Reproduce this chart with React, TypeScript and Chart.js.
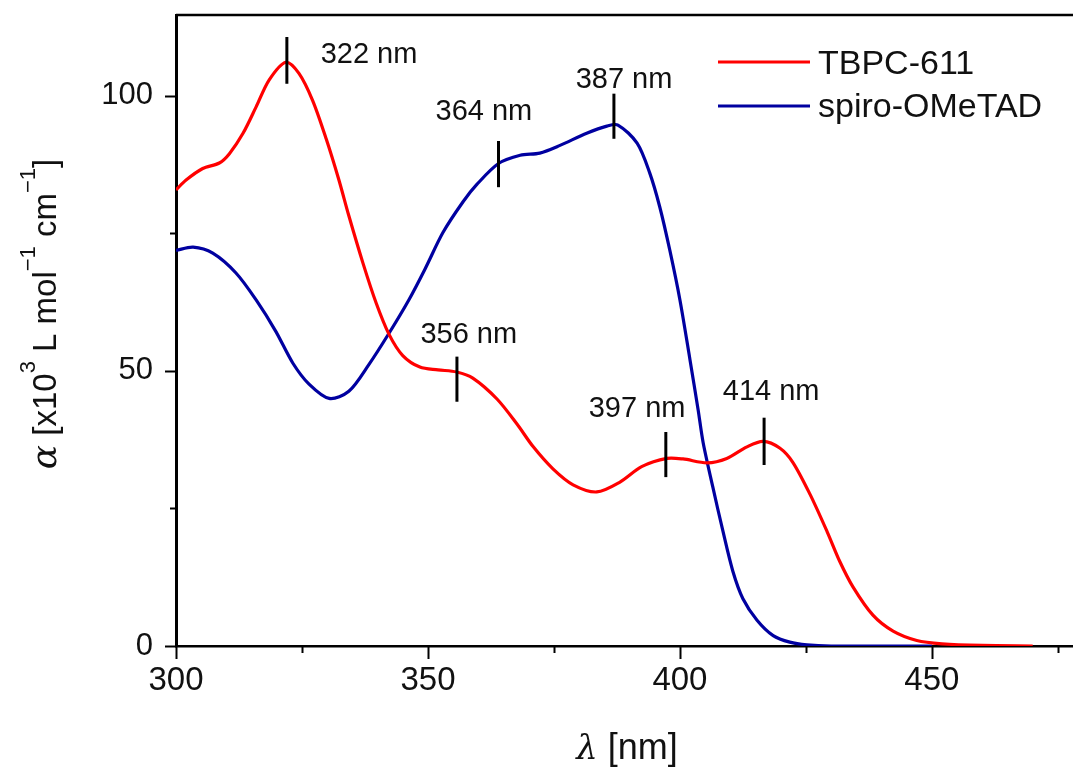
import React, { useEffect, useRef } from 'react';
import { Chart, registerables } from 'chart.js';

Chart.register(...registerables);

// ---- data ----
const tbpcWavelength = [300, 302, 305.3, 308.6, 310.6, 313.3, 315.9, 318.5, 321.8, 324.4, 327.1, 329.8, 332.3, 334.3, 337.1, 339.7, 342.3, 345, 348.4, 352, 355.7, 358.9, 363.7, 367.7, 370.9, 374.8, 378.8, 383.5, 388.1, 392.4, 397.4, 400.6, 405.4, 409.3, 413.3, 416.5, 419.8, 422.4, 425.8, 429.2, 431.7, 434.3, 438.3, 442.3, 447, 452, 460, 470];
const tbpcAlpha = [82.9, 84.7, 86.8, 87.8, 89.5, 93.2, 98, 102.9, 106.1, 104.1, 99.2, 92.2, 84.8, 78.2, 69.6, 62.4, 56.6, 52.8, 50.7, 50.2, 49.8, 48.7, 44.9, 40.3, 36.2, 32.2, 29.3, 28, 29.8, 32.6, 34.1, 34, 33.3, 34.1, 36.2, 37.2, 36.0, 33.4, 27.6, 20.8, 15.4, 10.8, 5.6, 2.7, 1.0, 0.4, 0.1, 0];

const spiroWavelength = [300, 303.4, 307.3, 311.9, 315.9, 319.8, 323.2, 326.4, 330.4, 334.3, 338.3, 342.3, 346.2, 349.4, 353, 357, 359.7, 364, 368.3, 372.2, 376.2, 381.5, 385.5, 387.7, 391.5, 394, 396, 398, 400, 402, 403.6, 404.6, 406.5, 408.5, 410.5, 412.5, 415.3, 418.5, 421.8, 425.2, 430, 450];
const spiroAlpha = [71.9, 72.5, 71.4, 67.8, 62.9, 57.2, 51.4, 47.6, 45, 46.3, 51.2, 56.9, 62.9, 68.5, 75.2, 80.8, 83.9, 87.7, 89.2, 89.6, 91, 93.2, 94.5, 94.7, 91.4, 86.0, 79.8, 71.9, 62.9, 52, 43, 37, 29, 21, 13.6, 8.6, 4.7, 1.9, 0.7, 0.2, 0, 0];

const seriesNames = ['TBPC-611', 'spiro-OMeTAD'];
const seriesColors = ['#ff0000', '#0000a0'];

const xTickValues = [300, 325, 350, 375, 400, 425, 450, 475];
const yTickValues = [0, 25, 50, 75, 100];

// peak markers (data units)
const peakLabels = ['322 nm', '364 nm', '387 nm', '356 nm', '397 nm', '414 nm'];
const peakX = [322.0, 364.0, 386.9, 355.75, 397.2, 416.7];
const peakTop = [110.7, 91.8, 100.4, 52.6, 38.9, 41.5];
const peakBottom = [102.2, 83.4, 92.2, 44.4, 30.7, 32.9];
const labelX = [338.3, 361.1, 388.9, 358.1, 391.5, 418.1];
const labelY = [106.0, 95.7, 101.5, 55.1, 41.6, 44.7];

const SANS = '"Liberation Sans", Arial, sans-serif';
const SERIF = '"DejaVu Serif", "Liberation Serif", serif';

type Seg = { t: string; font: string; rise?: number };

function segWidth(ctx: CanvasRenderingContext2D, segs: Seg[]) {
  let w = 0;
  for (const s of segs) {
    ctx.font = s.font;
    w += ctx.measureText(s.t).width;
  }
  return w;
}

function drawSegs(ctx: CanvasRenderingContext2D, segs: Seg[], startX: number, baseY: number) {
  let x = startX;
  ctx.textAlign = 'left';
  ctx.textBaseline = 'alphabetic';
  for (const s of segs) {
    ctx.font = s.font;
    ctx.fillText(s.t, x, baseY - (s.rise || 0));
    x += ctx.measureText(s.t).width;
  }
}

const decorPlugin = {
  id: 'decor',
  afterDraw(chart: any) {
    const ctx: CanvasRenderingContext2D = chart.ctx;
    const xs = chart.scales.x;
    const ys = chart.scales.y;
    const area = chart.chartArea;
    ctx.save();
    ctx.strokeStyle = '#000';
    ctx.fillStyle = '#111';

    // top frame line
    ctx.lineWidth = 2.5;
    ctx.beginPath();
    ctx.moveTo(area.left, area.top);
    ctx.lineTo(chart.width, area.top);
    ctx.stroke();

    // tick marks (outward)
    ctx.lineWidth = 2;
    for (const v of xTickValues) {
      const px = Math.round(xs.getPixelForValue(v)) + 0.5;
      const len = v % 50 === 0 ? 13 : 7;
      ctx.beginPath();
      ctx.moveTo(px, area.bottom);
      ctx.lineTo(px, area.bottom + len);
      ctx.stroke();
    }
    for (const v of yTickValues) {
      const py = Math.round(ys.getPixelForValue(v)) + 0.5;
      const len = v % 50 === 0 ? 11 : 6;
      ctx.beginPath();
      ctx.moveTo(area.left - len, py);
      ctx.lineTo(area.left, py);
      ctx.stroke();
    }

    // peak markers
    ctx.lineWidth = 3;
    for (let i = 0; i < peakX.length; i++) {
      const px = xs.getPixelForValue(peakX[i]);
      ctx.beginPath();
      ctx.moveTo(px, ys.getPixelForValue(peakTop[i]));
      ctx.lineTo(px, ys.getPixelForValue(peakBottom[i]));
      ctx.stroke();
    }
    ctx.font = `29px ${SANS}`;
    ctx.textAlign = 'center';
    ctx.textBaseline = 'alphabetic';
    for (let i = 0; i < peakLabels.length; i++) {
      ctx.fillText(peakLabels[i], xs.getPixelForValue(labelX[i]), ys.getPixelForValue(labelY[i]));
    }

    // legend
    const legendY = [62, 106];
    const legendBase = [74, 117];
    for (let i = 0; i < seriesNames.length; i++) {
      ctx.strokeStyle = seriesColors[i];
      ctx.lineWidth = 3.2;
      ctx.beginPath();
      ctx.moveTo(718, legendY[i]);
      ctx.lineTo(810, legendY[i]);
      ctx.stroke();
      ctx.fillStyle = '#111';
      ctx.font = `34px ${SANS}`;
      ctx.textAlign = 'left';
      ctx.fillText(seriesNames[i], 818, legendBase[i]);
    }

    // x axis title
    const xTitle: Seg[] = [
      { t: 'λ', font: `italic 34px ${SERIF}` },
      { t: ' [nm]', font: `36px ${SANS}` },
    ];
    const xw = segWidth(ctx, xTitle);
    drawSegs(ctx, xTitle, 627 - xw / 2, 759);

    // y axis title (rotated)
    const supF = `22px ${SANS}`;
    const mainF = `33px ${SANS}`;
    const yTitle: Seg[] = [
      { t: 'α', font: `italic 36px ${SERIF}` },
      { t: ' [x10', font: mainF },
      { t: '3', font: supF, rise: 21 },
      { t: ' L mol', font: mainF },
      { t: '−1', font: supF, rise: 21 },
      { t: ' cm', font: mainF },
      { t: '−1', font: supF, rise: 21 },
      { t: ']', font: mainF },
    ];
    const yw = segWidth(ctx, yTitle);
    ctx.translate(56, 314);
    ctx.rotate(-Math.PI / 2);
    drawSegs(ctx, yTitle, -yw / 2, 0);
    ctx.restore();
  },
};

export default function App() {
  const canvasRef = useRef<HTMLCanvasElement | null>(null);

  useEffect(() => {
    if (!canvasRef.current) return;
    const chart = new Chart(canvasRef.current, {
      type: 'line',
      data: {
        datasets: [
          {
            label: seriesNames[0],
            data: tbpcWavelength.map((x, i) => ({ x, y: tbpcAlpha[i] })),
            borderColor: seriesColors[0],
            borderWidth: 3.2,
            pointRadius: 0,
            tension: 0.3,
            fill: false,
          },
          {
            label: seriesNames[1],
            data: spiroWavelength.map((x, i) => ({ x, y: spiroAlpha[i] })),
            borderColor: seriesColors[1],
            borderWidth: 3.2,
            pointRadius: 0,
            tension: 0.3,
            fill: false,
          },
        ],
      },
      options: {
        animation: false,
        responsive: true,
        maintainAspectRatio: false,
        layout: { padding: { top: 15, right: 0, left: 0, bottom: 0 } },
        plugins: { legend: { display: false }, tooltip: { enabled: false } },
        scales: {
          x: {
            type: 'linear',
            min: 300,
            max: 478,
            afterFit: (s: any) => { s.height = 125; s.paddingLeft = 0; s.paddingRight = 0; },
            afterBuildTicks: (s: any) => { s.ticks = xTickValues.map((v) => ({ value: v })); },
            grid: { display: false, drawTicks: false },
            border: { display: true, color: '#000', width: 2.5 },
            ticks: {
              padding: 15,
              color: '#111',
              maxRotation: 0,
              autoSkip: false,
              font: { family: SANS, size: 33 },
              callback: (v: any) => (Number(v) % 50 === 0 ? String(v) : ''),
            },
          },
          y: {
            type: 'linear',
            min: 0,
            max: 114.7,
            afterFit: (s: any) => { s.width = 176; s.paddingTop = 0; s.paddingBottom = 0; },
            afterBuildTicks: (s: any) => { s.ticks = yTickValues.map((v) => ({ value: v })); },
            grid: { display: false, drawTicks: false },
            border: { display: true, color: '#000', width: 3 },
            ticks: {
              padding: 23,
              color: '#111',
              autoSkip: false,
              font: { family: SANS, size: 31 },
              callback: (v: any) => (Number(v) % 50 === 0 ? String(v) : ''),
            },
          },
        },
      },
      plugins: [decorPlugin],
    } as any);
    return () => chart.destroy();
  }, []);

  return (
    <div style={{ position: 'fixed', left: 0, top: 0, width: 1073, height: 771, background: '#fff' }}>
      <canvas ref={canvasRef} />
    </div>
  );
}
